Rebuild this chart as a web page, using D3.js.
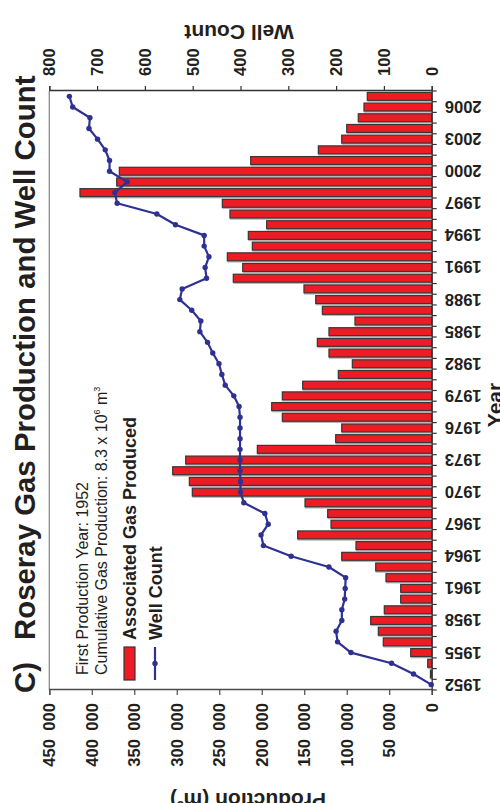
<!DOCTYPE html>
<html>
<head>
<meta charset="utf-8">
<script src="https://cdn.jsdelivr.net/npm/d3@7"></script>
<style>
  html, body { margin: 0; padding: 0; background: #fff; }
  svg { display: block; font-family: "Liberation Sans", Arial, sans-serif; }
</style>
</head>
<body>
<script>
// Roseray field: associated gas produced (m³) and producing well count, 1952–2007
const years = d3.range(1952, 2008);
const production = [
  0, 1500, 4700, 24700, 57000, 62800, 71800, 55800, 36500, 36500,
  53800, 65900, 105900, 89100, 157700, 118500, 122400, 149100, 281700, 285200,
  304800, 289500, 205200, 113000, 105900, 175800, 188300, 175800, 151800, 109900,
  93400, 120900, 134600, 120900, 90300, 128700, 136500, 150300, 233500, 222400,
  240500, 211100, 215800, 194200, 237400, 246400, 413900, 370700, 367600, 213000,
  133400, 105900, 100000, 86400, 79700, 75800
];
const wellCount = [
  1, 38, 84, 169, 197, 200, 188, 188, 182, 181,
  180, 215, 294, 352, 357, 342, 349, 393, 400, 400,
  401, 401, 401, 401, 401, 401, 403, 414, 432, 439,
  445, 458, 469, 485, 483, 502, 527, 522, 471, 474,
  466, 476, 476, 536, 575, 658, 663, 637, 674, 674,
  683, 699, 717, 715, 751, 758
];
const yearTickLabels = d3.range(1952, 2008, 3);
const productionTicks = d3.range(0, 450001, 50000);
const wellTicks = d3.range(0, 801, 100);

const W = 500, H = 803;
// the chart is laid out landscape (H wide, W tall) and turned a quarter turn
const svg = d3.select("body").append("svg").attr("width", W).attr("height", H);
const g = svg.append("g").attr("transform", `translate(0,${H}) rotate(-90)`);

const plot = { left: 113, right: 712, top: 49.3, bottom: 431.7 };
const RED = "#ed1c24", BLUE = "#2e3192", INK = "#231f20";
const FONT = "Liberation Sans, Arial, sans-serif";

const x = d3.scaleBand().domain(years).range([plot.left, plot.right])
  .paddingInner(0.26).paddingOuter(0.13);
const yProd = d3.scaleLinear().domain([0, 450000]).range([plot.bottom, plot.top]);
const yWell = d3.scaleLinear().domain([0, 800]).range([plot.bottom, plot.top]);

const rows = years.map((yr, i) => ({ yr, prod: production[i], wells: wellCount[i] }));

// top frame
g.append("line").attr("x1", plot.left).attr("x2", plot.right)
  .attr("y1", plot.top).attr("y2", plot.top)
  .attr("stroke", "#8a8a8a").attr("stroke-width", 1.3);

// bars: soft grey shadow, then red bar with dark outline
const barRows = rows.filter(d => d.prod > 0);
g.append("g").selectAll("rect").data(barRows).join("rect")
  .attr("x", d => x(d.yr) - 1.8).attr("width", x.bandwidth())
  .attr("y", d => yProd(d.prod)).attr("height", d => plot.bottom - yProd(d.prod))
  .attr("fill", "#b5b5b5");
g.append("g").selectAll("rect").data(barRows).join("rect")
  .attr("x", d => x(d.yr)).attr("width", x.bandwidth())
  .attr("y", d => yProd(d.prod)).attr("height", d => plot.bottom - yProd(d.prod))
  .attr("fill", RED).attr("stroke", "#3a3536").attr("stroke-width", 1.2);

// production axis (left)
const axProd = g.append("g").attr("transform", `translate(${plot.left},0)`)
  .call(d3.axisLeft(yProd).tickValues(productionTicks).tickSize(5).tickPadding(8)
    .tickFormat(v => v === 0 ? "0" : d3.format("d")(v / 1000) + "\u2002000"));
axProd.select(".domain").attr("stroke", "#4a4a4a").attr("stroke-width", 1.3);
axProd.selectAll(".tick line").attr("stroke", "#4a4a4a").attr("stroke-width", 1.2);
axProd.selectAll("text").attr("font-size", 16.6).attr("font-weight", "bold")
  .attr("fill", INK).attr("font-family", FONT);

// well count axis (right)
const axWell = g.append("g").attr("transform", `translate(${plot.right},0)`)
  .call(d3.axisRight(yWell).tickValues(wellTicks).tickSize(5).tickPadding(10));
axWell.select(".domain").attr("stroke", "#333").attr("stroke-width", 1.3);
axWell.selectAll(".tick line").attr("stroke", "#333").attr("stroke-width", 1.2);
axWell.selectAll("text").attr("font-size", 16.6).attr("font-weight", "bold")
  .attr("fill", INK).attr("font-family", FONT);

// year axis (bottom): ticks between years, upright labels every third year
const axYear = g.append("g").attr("transform", `translate(0,${plot.bottom})`)
  .call(d3.axisBottom(x).tickValues(yearTickLabels).tickSize(0));
axYear.select(".domain").attr("stroke", "#333").attr("stroke-width", 1.3);
axYear.selectAll(".tick text")
  .attr("transform", "translate(6,13) rotate(-90)")
  .attr("x", 0).attr("y", 0).attr("dy", null)
  .attr("text-anchor", "end")
  .attr("font-size", 16.6).attr("font-weight", "bold")
  .attr("fill", INK).attr("font-family", FONT);
const gap = (x.step() - x.bandwidth()) / 2;
const boundaries = years.map(yr => x(yr) - gap).concat([plot.right]);
g.append("g").selectAll("line").data(boundaries).join("line")
  .attr("x1", d => d).attr("x2", d => d)
  .attr("y1", plot.bottom).attr("y2", plot.bottom + 5)
  .attr("stroke", "#333").attr("stroke-width", 1.2);

// well count line
const line = d3.line().x(d => x(d.yr) + x.bandwidth() / 2).y(d => yWell(d.wells));
g.append("path").datum(rows).attr("d", line)
  .attr("fill", "none").attr("stroke", BLUE).attr("stroke-width", 2.2)
  .attr("stroke-linejoin", "round");
g.append("g").selectAll("circle").data(rows).join("circle")
  .attr("cx", d => x(d.yr) + x.bandwidth() / 2).attr("cy", d => yWell(d.wells))
  .attr("r", 2.7).attr("fill", BLUE);

// axis titles
g.append("text").attr("transform", "translate(10,248) rotate(-90)")
  .attr("text-anchor", "middle").attr("font-size", 21).attr("font-weight", "bold").attr("fill", INK)
  .call(t => {
    t.append("tspan").text("Production (m");
    t.append("tspan").attr("font-size", 12).attr("dy", -8).text("3");
    t.append("tspan").attr("dy", 8).text(")");
  });
g.append("text").attr("transform", "translate(778,239) rotate(-90)")
  .attr("text-anchor", "middle").attr("font-size", 21).attr("font-weight", "bold").attr("fill", INK)
  .text("Well Count");
g.append("text").attr("x", 398).attr("y", 502)
  .attr("text-anchor", "middle").attr("font-size", 21).attr("font-weight", "bold").attr("fill", INK)
  .text("Year");

// title
g.append("text").attr("x", 110).attr("y", 35)
  .attr("font-size", 29.4).attr("font-weight", "bold").attr("fill", INK).text("C)");
g.append("text").attr("x", 163).attr("y", 35)
  .attr("font-size", 29.4).attr("font-weight", "bold").attr("fill", INK)
  .text("Roseray Gas Production and Well Count");

// notes
g.append("text").attr("x", 128).attr("y", 88)
  .attr("font-size", 16).attr("fill", INK).text("First Production Year: 1952");
g.append("text").attr("x", 128).attr("y", 107)
  .attr("font-size", 16).attr("fill", INK)
  .call(t => {
    t.append("tspan").text("Cumulative Gas Production: 8.3 x 10");
    t.append("tspan").attr("font-size", 9).attr("dy", -7).text("6");
    t.append("tspan").attr("dy", 7).text(" m");
    t.append("tspan").attr("font-size", 9).attr("dy", -7).text("3");
  });

// legend
g.append("rect").attr("x", 123).attr("y", 124).attr("width", 33).attr("height", 11)
  .attr("fill", RED).attr("stroke", "#3a3536").attr("stroke-width", 1.2);
g.append("text").attr("x", 163).attr("y", 136)
  .attr("font-size", 18).attr("font-weight", "bold").attr("fill", INK).text("Associated Gas Produced");
g.append("line").attr("x1", 123).attr("x2", 156).attr("y1", 155).attr("y2", 155)
  .attr("stroke", BLUE).attr("stroke-width", 2.2);
g.append("circle").attr("cx", 139.5).attr("cy", 155).attr("r", 2.7).attr("fill", BLUE);
g.append("text").attr("x", 163).attr("y", 162)
  .attr("font-size", 18).attr("font-weight", "bold").attr("fill", INK).text("Well Count");
</script>
</body>
</html>
